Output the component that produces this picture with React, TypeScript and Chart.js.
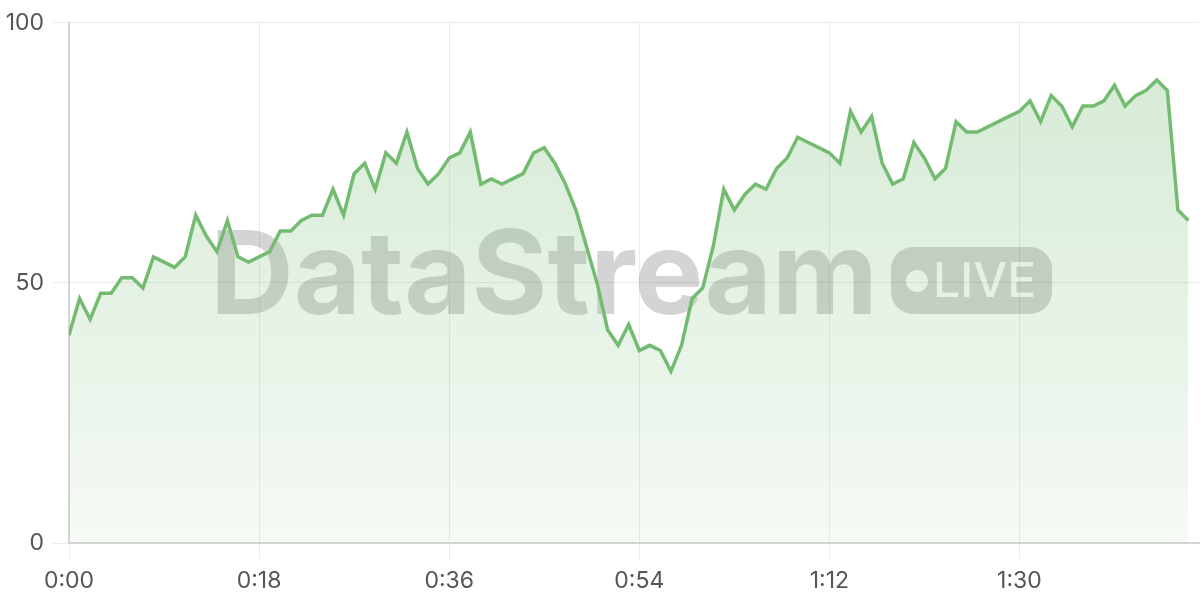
import React, { useEffect, useRef } from "react";
import { Chart, registerables } from "chart.js";

Chart.register(...registerables);

// Seconds elapsed (one sample per second) and the streamed values
const values: number[] = [
  40, 47, 43, 48, 48, 51, 51, 49, 55, 54,
  53, 55, 63, 59, 56, 62, 55, 54, 55, 56,
  60, 60, 62, 63, 63, 68, 63, 71, 73, 68,
  75, 73, 79, 72, 69, 71, 74, 75, 79, 69,
  70, 69, 70, 71, 75, 76, 73, 69, 64, 57,
  50, 41, 38, 42, 37, 38, 37, 33, 38, 47,
  49, 57, 68, 64, 67, 69, 68, 72, 74, 78,
  77, 76, 75, 73, 83, 79, 82, 73, 69, 70,
  77, 74, 70, 72, 81, 79, 79, 80, 81, 82,
  83, 85, 81, 86, 84, 80, 84, 84, 85, 88,
  84, 86, 87, 89, 87, 64, 62,
];
const seconds: number[] = values.map((_, i) => i);
const xTickValues: number[] = [0, 18, 36, 54, 72, 90];
const yTickValues: number[] = [0, 50, 100];
const xMax = 107;
const watermarkTitle = "DataStream";
const watermarkBadge = "LIVE";

const fmt = (s: number) => `${Math.floor(s / 60)}:${String(s % 60).padStart(2, "0")}`;

const watermarkPlugin = {
  id: "watermark",
  beforeDatasetsDraw(chart: any) {
    const ctx: CanvasRenderingContext2D = chart.ctx;
    ctx.save();
    ctx.fillStyle = "rgba(0,0,0,0.17)";
    ctx.font = "bold 116px Inter";
    ctx.textBaseline = "alphabetic";
    ctx.textAlign = "left";
    ctx.fillText(watermarkTitle, 210, 314);

    // badge with cut-out dot and text
    const bw = 161, bh = 67;
    const off = document.createElement("canvas");
    off.width = bw; off.height = bh;
    const o = off.getContext("2d")!;
    o.fillStyle = "#000";
    o.beginPath();
    (o as any).roundRect(0, 0, bw, bh, 22);
    o.fill();
    o.globalCompositeOperation = "destination-out";
    o.beginPath();
    o.arc(26, 34, 11, 0, Math.PI * 2);
    o.fill();
    o.font = "500 48px Inter";
    o.textBaseline = "alphabetic";
    o.fillText(watermarkBadge, 42, 50);
    ctx.globalAlpha = 0.17;
    ctx.drawImage(off, 891, 247);
    ctx.restore();
  },
};

export default function App() {
  const ref = useRef<HTMLCanvasElement | null>(null);
  useEffect(() => {
    if (!ref.current) return;
    const chart = new Chart(ref.current, {
      type: "line",
      data: {
        datasets: [
          {
            data: seconds.map((s, i) => ({ x: s, y: values[i] })),
            borderColor: "#74bb72",
            borderWidth: 3.5,
            pointRadius: 0,
            tension: 0,
            fill: "origin",
            backgroundColor: (c: any) => {
              const area = c.chart.chartArea;
              if (!area) return "rgba(116,187,114,0.2)";
              const g = c.chart.ctx.createLinearGradient(0, area.top, 0, area.bottom);
              g.addColorStop(0, "rgba(116,187,114,0.32)");
              g.addColorStop(1, "rgba(116,187,114,0.07)");
              return g;
            },
          },
        ],
      },
      options: {
        animation: false,
        responsive: true,
        maintainAspectRatio: false,
        layout: { padding: { top: 20, right: 1, bottom: 0, left: 0 } },
        plugins: { legend: { display: false }, tooltip: { enabled: false } },
        scales: {
          x: {
            type: "linear",
            min: 0,
            max: xMax,
            afterBuildTicks: (s: any) => {
              s.ticks = xTickValues.map((v) => ({ value: v }));
            },
            afterFit: (s: any) => {
              s.height = 57;
            },
            ticks: {
              autoSkip: false,
              maxRotation: 0,
              padding: 8,
              color: "#555",
              font: { family: "Inter", size: 23 },
              callback: (v: any) => fmt(Number(v)),
            },
            grid: { color: "#ebebeb", tickLength: 16, lineWidth: 1 },
            border: { color: "#d4d4d4", width: 2 },
          },
          y: {
            min: 0,
            max: 100,
            afterBuildTicks: (s: any) => {
              s.ticks = yTickValues.map((v) => ({ value: v }));
            },
            afterFit: (s: any) => {
              s.width = 69;
            },
            ticks: {
              padding: 9,
              color: "#555",
              font: { family: "Inter", size: 23 },
            },
            grid: { color: "#ebebeb", tickLength: 16, lineWidth: 1 },
            border: { color: "#d4d4d4", width: 2 },
          },
        },
      },
      plugins: [watermarkPlugin],
    } as any);
    return () => chart.destroy();
  }, []);
  return (
    <div style={{ position: "fixed", left: 0, top: 0, width: 1200, height: 600, background: "#fff" }}>
      <canvas ref={ref} />
    </div>
  );
}
